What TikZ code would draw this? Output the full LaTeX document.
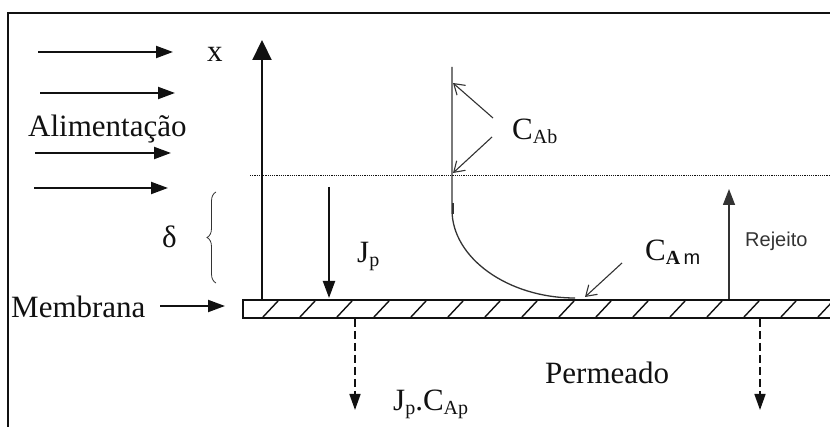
\documentclass[tikz,border=0pt]{standalone}
\usepackage{fontspec}
\setmainfont{Liberation Serif}
\setsansfont{Liberation Sans}
\usetikzlibrary{arrows.meta,decorations.pathreplacing}
\definecolor{ink}{HTML}{111111}
\definecolor{pencil}{HTML}{333333}
\newcommand{\lowsub}[2][20]{\raisebox{-4pt}{\fontsize{#1}{#1}\selectfont #2}}
\tikzset{
  bigtext/.style={
    font=\fontsize{#1}{#1}\selectfont,
    text=ink,
    anchor=base west,
    inner sep=0pt
  },
  bigtext/.default=31,
  sanstext/.style={
    font=\sffamily\fontsize{20}{22}\selectfont,
    text=pencil,
    anchor=base west,
    inner sep=0pt
  },
  flowarrow/.style={
    line width=2.1pt,
    draw=ink,
    -{Triangle[length=17pt,width=12pt]}
  },
  axisarrow/.style={
    line width=2.2pt,
    draw=ink,
    -{Triangle[length=20pt,width=19pt]}
  },
  thinarrow/.style={
    line width=1.4pt,
    draw=pencil,
    -{Triangle[length=16pt,width=12pt]}
  },
  permarrow/.style={
    line width=1.6pt,
    draw=ink,
    dash pattern=on 8pt off 4pt,
    -{Triangle[length=16pt,width=11pt]}
  },
  pointer/.style={
    line width=1.1pt,
    draw=pencil,
    -{Straight Barb[length=10pt,width=13pt]}
  },
  profile/.style={
    line width=1.3pt,
    draw=pencil
  }
}

\begin{document}
\begin{tikzpicture}[x=1pt,y=-1pt]
\useasboundingbox (0,0) rectangle (830,427);

% frame (only top and left edges are visible)
\draw[line width=2.4pt, ink] (8,427) -- (8,13) -- (830,13);

% ---------- Feed side ----------
\foreach \i/\ya/\xa/\xb in {1/52/38/173, 2/93/40/175, 3/153/35/171, 4/188/34/168}{
  \coordinate (feed\i a) at (\xa,\ya);
  \coordinate (feed\i b) at (\xb,\ya);
  \draw[flowarrow] (feed\i a) -- (feed\i b);
}
\node[bigtext] (feed) at (28,137) {Alimentação};
\node[bigtext] (xlabel) at (207,62) {x};

% ---------- Membrane ----------
\draw[line width=2pt, ink] (243,300) rectangle (833,318);
\foreach \k in {0,...,15}{
  \draw[line width=1.4pt, ink] ({263+37*\k},317) -- ({278+37*\k},301);
}
\node[bigtext] (mem) at (11,318) {Membrana};
\coordinate (memtail) at (160,306);
\coordinate (memtip) at (225,306);
\draw[flowarrow] (memtail) -- (memtip);

% axis
\coordinate (axbase) at (262,300);
\coordinate (axtop) at (262,40);
\draw[axisarrow] (axbase) -- (axtop);

% boundary layer edge
\draw[line width=1pt, ink, dash pattern=on 1.2pt off 1pt] (250,176) -- (832,176);
\draw[line width=0.8pt, pencil, decorate, decoration={brace, amplitude=9pt}] (216,283) -- (216,192);
\node[bigtext] (delta) at (162,248) {δ};

% permeate flux
\coordinate (jptail) at (329,187);
\coordinate (jptip) at (329,298);
\draw[flowarrow] (jptail) -- (jptip);
\node[bigtext] (jp) at (357,263) {J\lowsub{p}};

% ---------- Concentration profile ----------
\coordinate (cbtop) at (452,67);
\coordinate (cbend) at (452,210);
\coordinate (cmwall) at (575,298);
\draw[profile] (cbtop) -- (cbend) .. controls (452,258) and (508,298) .. (cmwall);
\draw[line width=2.4pt, pencil] (453,203) -- (453,214);

\node[bigtext] (cab) at (512,140) {C\lowsub{Ab}};
\coordinate (cab1) at (493,118);
\coordinate (cab2) at (492,137);
\coordinate (cbhi) at (453,83);
\coordinate (cblo) at (453,173);
\draw[pointer] (cab1) -- (cbhi);
\draw[pointer] (cab2) -- (cblo);

\node[bigtext] (cam) at (645,261) {C\lowsub{\textbf{A}\,\textsf{m}}};
\coordinate (cam1) at (622,263);
\coordinate (cam2) at (585,297);
\draw[pointer] (cam1) -- (cam2);

% reject
\coordinate (rejbase) at (729,299);
\coordinate (rejtip) at (729,189);
\draw[thinarrow] (rejbase) -- (rejtip);
\node[sanstext] (rej) at (745,247) {Rejeito};

% ---------- Permeate side ----------
\coordinate (p1a) at (355,319);
\coordinate (p1b) at (355,410);
\coordinate (p2a) at (760,319);
\coordinate (p2b) at (760,410);
\draw[permarrow] (p1a) -- (p1b);
\draw[permarrow] (p2a) -- (p2b);
\node[bigtext] (perm) at (545,384) {Permeado};
\node[bigtext] (jpcap) at (393,410) {J\lowsub{p}.C\lowsub{Ap}};

\end{tikzpicture}
\end{document}
